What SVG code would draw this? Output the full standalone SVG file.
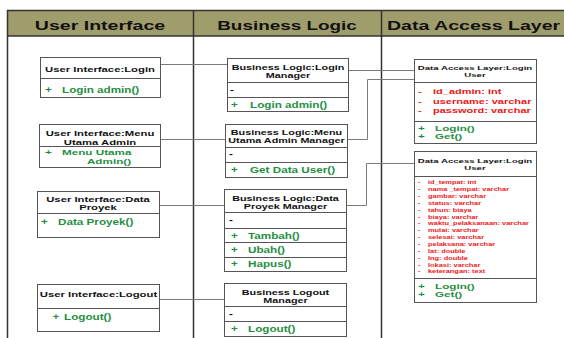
<svg xmlns="http://www.w3.org/2000/svg" width="564" height="338" viewBox="0 0 564 338">
<style>
text{font-family:"Liberation Sans",Arial,sans-serif;font-weight:bold}
.h{font-size:13.5px;fill:#111}
.t{font-size:7.2px;fill:#111;text-anchor:middle}
.bt{font-size:7.1px;fill:#111;text-anchor:middle}
.dt{font-size:6.2px;fill:#111;text-anchor:middle}
.g{font-size:9px;fill:#1f8f3f}
.g2{font-size:7.5px;fill:#1f8f3f}
.k{font-size:9px;fill:#111}
.r{font-size:7.5px;fill:#f01515}
.rs{font-size:5.7px;fill:#f01515}
.box{fill:#fff;stroke:#555;stroke-width:1}
.div{stroke:#555;stroke-width:1}
.col{stroke:#333;stroke-width:1.5}
.con{fill:none;stroke:#7a7a7a;stroke-width:1}
</style>
<rect width="564" height="338" fill="#fff"/>
<g id="frame">
<rect x="7" y="10" width="560" height="26" fill="#a09d6c"/>
<line class="col" x1="7" y1="10.5" x2="564" y2="10.5"/>
<line class="col" x1="7" y1="36" x2="564" y2="36"/>
<line class="col" x1="7.5" y1="10" x2="7.5" y2="338"/>
<line class="col" x1="193.5" y1="10" x2="193.5" y2="338"/>
<line class="col" x1="381.5" y1="10" x2="381.5" y2="338"/>
<text class="h" text-anchor="middle" transform="translate(100,29.5) scale(1.45,1)">User Interface</text>
<text class="h" text-anchor="middle" transform="translate(287,29.5) scale(1.4,1)">Business Logic</text>
<text class="h" transform="translate(387,29.5) scale(1.45,1)">Data Access Layer</text>
</g>
<g id="connectors">
<polyline class="con" points="160,64.5 227,64.5"/>
<polyline class="con" points="160,139.5 225,139.5"/>
<polyline class="con" points="159,205.5 224,205.5"/>
<polyline class="con" points="159,299.5 224,299.5"/>
<polyline class="con" points="348,70.5 414,70.5"/>
<polyline class="con" points="347,139.5 367.5,139.5 367.5,79.5 414,79.5"/>
<polyline class="con" points="346,205.5 366.5,205.5 366.5,163.5 414,163.5"/>
</g>
<g id="ui-login">
<rect class="box" x="40.5" y="57.5" width="120" height="40"/>
<line class="div" x1="40.5" y1="78.5" x2="160.5" y2="78.5"/>
<text class="t" transform="translate(100,71.5) scale(1.57,1)">User Interface:Login</text>
<text class="g" transform="translate(45,92.5) scale(1.3,1)">+</text>
<text class="g" transform="translate(62,92.5) scale(1.3,1)">Login admin()</text>
</g>
<g id="ui-menu">
<rect class="box" x="39.5" y="124.5" width="121" height="43"/>
<line class="div" x1="39.5" y1="146.5" x2="160.5" y2="146.5"/>
<text class="t" transform="translate(100,136.3) scale(1.57,1)">User Interface:Menu</text>
<text class="t" transform="translate(100,144.6) scale(1.57,1)">Utama Admin</text>
<text class="g2" transform="translate(45,155) scale(1.56,1)">+</text>
<text class="g2" transform="translate(62,155) scale(1.56,1)">Menu Utama</text>
<text class="g2" text-anchor="middle" transform="translate(109,163.6) scale(1.56,1)">Admin()</text>
</g>
<g id="ui-data">
<rect class="box" x="37.5" y="191.5" width="122" height="46"/>
<line class="div" x1="37.5" y1="213.5" x2="159.5" y2="213.5"/>
<text class="t" transform="translate(98,202) scale(1.57,1)">User Interface:Data</text>
<text class="t" transform="translate(98,210.3) scale(1.57,1)">Proyek</text>
<text class="g" transform="translate(41,225) scale(1.3,1)">+</text>
<text class="g" transform="translate(58,225) scale(1.3,1)">Data Proyek()</text>
</g>
<g id="ui-logout">
<rect class="box" x="37.5" y="284.5" width="122" height="47"/>
<line class="div" x1="37.5" y1="308.5" x2="159.5" y2="308.5"/>
<text class="t" transform="translate(98.5,296.5) scale(1.57,1)">User Interface:Logout</text>
<text class="g" transform="translate(52.5,319.5) scale(1.3,1)">+</text>
<text class="g" transform="translate(64,319.5) scale(1.3,1)">Logout()</text>
</g>
<g id="bl-login">
<rect class="box" x="227.5" y="58.5" width="121" height="53"/>
<line class="div" x1="227.5" y1="82.5" x2="348.5" y2="82.5"/>
<line class="div" x1="227.5" y1="97.5" x2="348.5" y2="97.5"/>
<text class="bt" transform="translate(288,69.5) scale(1.52,1)">Business Logic:Login</text>
<text class="bt" transform="translate(288,77.8) scale(1.52,1)">Manager</text>
<text class="k" transform="translate(230,92.5) scale(1.3,1)">-</text>
<text class="g" transform="translate(231,107.5) scale(1.3,1)">+</text>
<text class="g" transform="translate(250,107.5) scale(1.3,1)">Login admin()</text>
</g>
<g id="bl-menu">
<rect class="box" x="225.5" y="124.5" width="122" height="53"/>
<line class="div" x1="225.5" y1="147.5" x2="347.5" y2="147.5"/>
<line class="div" x1="225.5" y1="162.5" x2="347.5" y2="162.5"/>
<text class="bt" transform="translate(286.5,135) scale(1.52,1)">Business Logic:Menu</text>
<text class="bt" transform="translate(286.5,143.3) scale(1.52,1)">Utama Admin Manager</text>
<text class="k" transform="translate(229,157) scale(1.3,1)">-</text>
<text class="g" transform="translate(231,172.5) scale(1.3,1)">+</text>
<text class="g" transform="translate(250,172.5) scale(1.3,1)">Get Data User()</text>
</g>
<g id="bl-data">
<rect class="box" x="224.5" y="189.5" width="122" height="82"/>
<line class="div" x1="224.5" y1="212.5" x2="346.5" y2="212.5"/>
<line class="div" x1="224.5" y1="228.5" x2="346.5" y2="228.5"/>
<line class="div" x1="224.5" y1="242.5" x2="346.5" y2="242.5"/>
<line class="div" x1="224.5" y1="257.5" x2="346.5" y2="257.5"/>
<text class="bt" transform="translate(285.5,200.5) scale(1.52,1)">Business Logic:Data</text>
<text class="bt" transform="translate(285.5,208.8) scale(1.52,1)">Proyek Manager</text>
<text class="k" transform="translate(229,223) scale(1.3,1)">-</text>
<text class="g" transform="translate(231,238.5) scale(1.3,1)">+</text>
<text class="g" transform="translate(248,238.5) scale(1.3,1)">Tambah()</text>
<text class="g" transform="translate(231,252.5) scale(1.3,1)">+</text>
<text class="g" transform="translate(248,252.5) scale(1.3,1)">Ubah()</text>
<text class="g" transform="translate(231,266.5) scale(1.3,1)">+</text>
<text class="g" transform="translate(248,266.5) scale(1.3,1)">Hapus()</text>
</g>
<g id="bl-logout">
<rect class="box" x="224.5" y="283.5" width="122" height="53"/>
<line class="div" x1="224.5" y1="306.5" x2="346.5" y2="306.5"/>
<line class="div" x1="224.5" y1="321.5" x2="346.5" y2="321.5"/>
<text class="bt" transform="translate(285.5,294.5) scale(1.52,1)">Business Logout</text>
<text class="bt" transform="translate(285.5,302.8) scale(1.52,1)">Manager</text>
<text class="k" transform="translate(229,316.5) scale(1.3,1)">-</text>
<text class="g" transform="translate(231,332) scale(1.3,1)">+</text>
<text class="g" transform="translate(248,332) scale(1.3,1)">Logout()</text>
</g>
<g id="dal-login">
<rect class="box" x="414.5" y="59.5" width="122" height="84"/>
<line class="div" x1="414.5" y1="82.5" x2="536.5" y2="82.5"/>
<line class="div" x1="414.5" y1="121.5" x2="536.5" y2="121.5"/>
<text class="dt" transform="translate(475,70) scale(1.55,1)">Data Access Layer:Login</text>
<text class="dt" transform="translate(475,77.2) scale(1.55,1)">User</text>
<text class="r" transform="translate(418,94) scale(1.47,1)">-</text>
<text class="r" transform="translate(433,94) scale(1.47,1)">id_admin: int</text>
<text class="r" transform="translate(418,103.6) scale(1.47,1)">-</text>
<text class="r" transform="translate(433,103.6) scale(1.47,1)">username: varchar</text>
<text class="r" transform="translate(418,113.2) scale(1.47,1)">-</text>
<text class="r" transform="translate(433,113.2) scale(1.47,1)">password: varchar</text>
<text class="g2" transform="translate(418,130.5) scale(1.56,1)">+</text>
<text class="g2" transform="translate(435,130.5) scale(1.56,1)">Login()</text>
<text class="g2" transform="translate(418,139.3) scale(1.56,1)">+</text>
<text class="g2" transform="translate(435,139.3) scale(1.56,1)">Get()</text>
</g>
<g id="dal-data">
<rect class="box" x="414.5" y="151.5" width="122" height="151"/>
<line class="div" x1="414.5" y1="176.5" x2="536.5" y2="176.5"/>
<line class="div" x1="414.5" y1="278.5" x2="536.5" y2="278.5"/>
<text class="dt" transform="translate(475,163) scale(1.55,1)">Data Access Layer:Login</text>
<text class="dt" transform="translate(475,170.2) scale(1.55,1)">User</text>
<text class="rs" transform="translate(418,184.3) scale(1.3,1)">-</text><text class="rs" transform="translate(428,184.3) scale(1.3,1)">id_tempat: int</text>
<text class="rs" transform="translate(418,191.1) scale(1.3,1)">-</text><text class="rs" transform="translate(428,191.1) scale(1.3,1)">nama _tempat: varchar</text>
<text class="rs" transform="translate(418,198) scale(1.3,1)">-</text><text class="rs" transform="translate(428,198) scale(1.3,1)">gambar: varchar</text>
<text class="rs" transform="translate(418,204.8) scale(1.3,1)">-</text><text class="rs" transform="translate(428,204.8) scale(1.3,1)">status: varchar</text>
<text class="rs" transform="translate(418,211.7) scale(1.3,1)">-</text><text class="rs" transform="translate(428,211.7) scale(1.3,1)">tahun: biaya</text>
<text class="rs" transform="translate(418,218.5) scale(1.3,1)">-</text><text class="rs" transform="translate(428,218.5) scale(1.3,1)">biaya: varchar</text>
<text class="rs" transform="translate(418,225.4) scale(1.3,1)">-</text><text class="rs" transform="translate(428,225.4) scale(1.3,1)">waktu_pelaksanaan: varchar</text>
<text class="rs" transform="translate(418,232.2) scale(1.3,1)">-</text><text class="rs" transform="translate(428,232.2) scale(1.3,1)">mulai: varchar</text>
<text class="rs" transform="translate(418,239.1) scale(1.3,1)">-</text><text class="rs" transform="translate(428,239.1) scale(1.3,1)">selesai: varchar</text>
<text class="rs" transform="translate(418,245.9) scale(1.3,1)">-</text><text class="rs" transform="translate(428,245.9) scale(1.3,1)">pelaksana: varchar</text>
<text class="rs" transform="translate(418,252.8) scale(1.3,1)">-</text><text class="rs" transform="translate(428,252.8) scale(1.3,1)">lat: double</text>
<text class="rs" transform="translate(418,259.6) scale(1.3,1)">-</text><text class="rs" transform="translate(428,259.6) scale(1.3,1)">lng: double</text>
<text class="rs" transform="translate(418,266.5) scale(1.3,1)">-</text><text class="rs" transform="translate(428,266.5) scale(1.3,1)">lokasi: varchar</text>
<text class="rs" transform="translate(418,273.3) scale(1.3,1)">-</text><text class="rs" transform="translate(428,273.3) scale(1.3,1)">keterangan: text</text>
<text class="g2" transform="translate(418,288.5) scale(1.56,1)">+</text>
<text class="g2" transform="translate(435,288.5) scale(1.56,1)">Login()</text>
<text class="g2" transform="translate(418,296.8) scale(1.56,1)">+</text>
<text class="g2" transform="translate(435,296.8) scale(1.56,1)">Get()</text>
</g>
</svg>
